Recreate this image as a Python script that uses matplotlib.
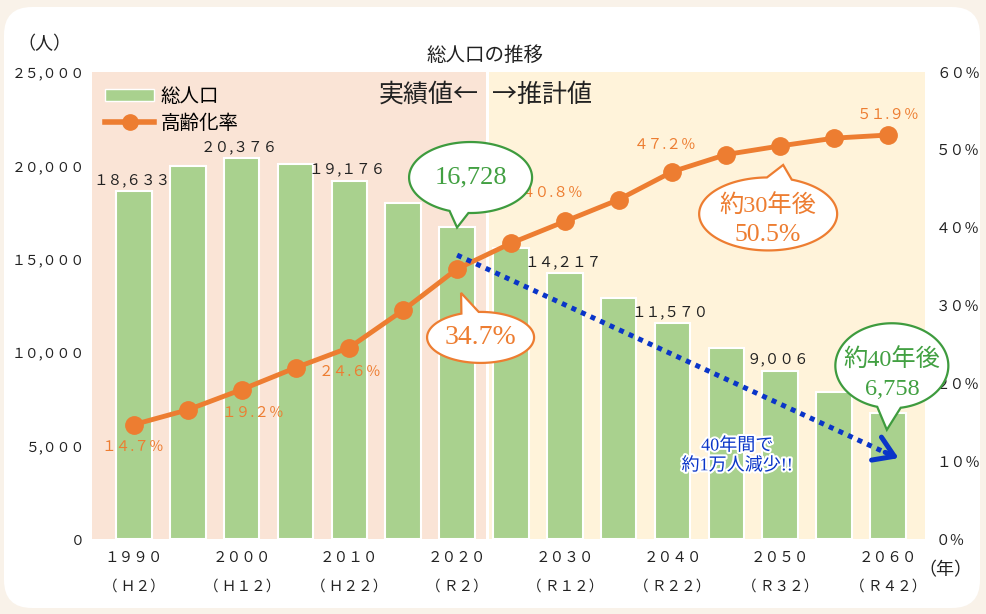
import numpy as np
import matplotlib
matplotlib.use('Agg')
import matplotlib.pyplot as plt
from matplotlib.patches import Patch, Polygon, FancyBboxPatch
from matplotlib.lines import Line2D
from matplotlib.transforms import IdentityTransform
import matplotlib.patheffects as pe

plt.rcParams['font.family'] = ['Noto Sans CJK JP', 'DejaVu Sans']
SERIF = ['Liberation Serif', 'Noto Sans CJK JP']

# データ
years = [1990, 1995, 2000, 2005, 2010, 2015, 2020, 2025, 2030, 2035, 2040, 2045, 2050, 2055, 2060]
eras = ['H2', 'H7', 'H12', 'H17', 'H22', 'H27', 'R2', 'R7', 'R12', 'R17', 'R22', 'R27', 'R32', 'R37', 'R42']
population = [18633, 19990, 20376, 20060, 19176, 18010, 16728, 15560, 14217, 12880, 11570, 10210, 9006, 7850, 6758]
aging_rate = [14.7, 16.6, 19.2, 22.0, 24.6, 29.4, 34.7, 38.0, 40.8, 43.6, 47.2, 49.4, 50.5, 51.5, 51.9]
pop_label_idx = [0, 2, 4, 8, 10, 12]
rate_label_idx = [0, 2, 4, 8, 10, 14]
pop_ticks = [0, 5000, 10000, 15000, 20000, 25000]
rate_ticks = [0, 10, 20, 30, 40, 50, 60]

GREEN = '#A9D18E'
ORANGE = '#ED7D31'
BLUE = '#0A35C8'
GTXT = '#42A042'

# 全角に変換
zen = str.maketrans('0123456789%HR', '０１２３４５６７８９％ＨＲ')


def fw(s):
    return s.translate(zen)


fig = plt.figure(figsize=(9.86, 6.14), dpi=100)
fig.patch.set_facecolor('#F9F2E9')
panel = FancyBboxPatch((4, 6), 976, 601, boxstyle='round,pad=0,rounding_size=28',
                       fc='white', ec='none', transform=IdentityTransform(), zorder=-1)
fig.add_artist(panel)

ax = fig.add_axes([92 / 986, 1 - 539 / 614, (925 - 92) / 986, (539 - 72) / 614])
ax.patch.set_visible(False)
x = np.arange(len(years))
x0, x1 = -0.78, 14.69
ax.set_xlim(x0, x1)
ax.set_ylim(0, 25000)
ax.axvspan(x0, 6.53, color='#FAE4D6', lw=0, zorder=0)
ax.axvspan(6.59, x1, color='#FFF3DA', lw=0, zorder=0)
ax.bar(x, population, width=0.66, color=GREEN, edgecolor='white', lw=1.5, zorder=2)
for s in ax.spines.values():
    s.set_visible(False)
ax.set_xticks([])
ax.set_yticks(pop_ticks, [fw(f'{v:,}') for v in pop_ticks])
ax.tick_params(axis='y', length=0, pad=5, labelsize=10, labelcolor='#222222')

ax2 = ax.twinx()
ax2.set_xlim(x0, x1)
ax2.set_ylim(0, 60)
ax2.plot(x, aging_rate, color=ORANGE, lw=3.5, marker='o', ms=12.5, zorder=3)
for s in ax2.spines.values():
    s.set_visible(False)
ax2.set_yticks(rate_ticks, [fw(f'{v}%') for v in rate_ticks])
ax2.tick_params(axis='y', length=0, pad=8, labelsize=10.5, labelcolor='#222222')

# 年ラベル
for i in range(0, len(years), 2):
    ax.annotate(fw(str(years[i])), (x[i], 0), xytext=(0, -19), textcoords='offset pixels',
                ha='center', va='center', fontsize=10.5, color='#222222', annotation_clip=False)
    ax.annotate('（ ' + fw(eras[i]) + '）', (x[i], 0), xytext=(0, -48), textcoords='offset pixels',
                ha='center', va='center', fontsize=10.5, color='#222222', annotation_clip=False)

# 人口ラベル
for i in pop_label_idx:
    ax.annotate(fw(f'{population[i]:,}'), (x[i], population[i]), xytext=(-2, 4),
                textcoords='offset pixels', ha='center', va='bottom', fontsize=10.5, color='#222222')

# 高齢化率ラベル
rate_off = [(-1, -22), (11, -23), (1, -24), (-13, 29), (-7, 27), (0, 20)]
for i, off in zip(rate_label_idx, rate_off):
    ax2.annotate(fw(f'{aging_rate[i]}%'), (x[i], aging_rate[i]), xytext=off,
                 textcoords='offset pixels', ha='center', va='center', fontsize=10.5, color=ORANGE)

# 減少の矢印
ax2.plot([6.0, 14.05], [15200, 4500], transform=ax.transData, ls=(0, (1, 1.1)), lw=3.6,
         color=BLUE, zorder=6)
ax2.annotate('', xy=(14.2, 4330), xycoords=ax.transData, xytext=(13.95, 4640), textcoords=ax.transData,
             arrowprops=dict(arrowstyle='->,head_length=0.7,head_width=0.45', lw=3.6, color=BLUE,
                             mutation_scale=20, shrinkA=0, shrinkB=0), zorder=6)
ax2.text(11.2, 4450, '40年間で\n約1万人減少!!', transform=ax.transData, ha='center', va='center',
         fontsize=13, color=BLUE, linespacing=1.2, zorder=7, family=SERIF,
         path_effects=[pe.withStroke(linewidth=3, foreground='white')])

ax2.legend(handles=[Patch(fc=GREEN, ec='white'),
                    Line2D([], [], color=ORANGE, lw=4, marker='o', ms=11)],
           labels=['総人口', '高齢化率'], loc='upper left', bbox_to_anchor=(0.002, 0.995),
           frameon=False, fontsize=14, handlelength=2.5, handleheight=0.55,
           handletextpad=0.35, labelspacing=0.3, borderaxespad=0.2)

fig.text(485 / 986, 1 - 55 / 614, '総人口の推移', ha='center', va='center', fontsize=14, color='#222222')
fig.text(44 / 986, 1 - 44 / 614, '（人）', ha='center', va='center', fontsize=13, color='#222222')
fig.text(945 / 986, 1 - 570 / 614, '（年）', ha='center', va='center', fontsize=13, color='#222222')
fig.text(479 / 986, 1 - 95 / 614, '実績値←', ha='right', va='center', fontsize=18, color='#222222')
fig.text(492 / 986, 1 - 95 / 614, '→推計値', ha='left', va='center', fontsize=18, color='#222222')

# 吹き出し（ピクセル座標のオーバーレイ）
ov = fig.add_axes([0, 0, 1, 1], zorder=10)
ov.set_xlim(0, 986)
ov.set_ylim(0, 614)
ov.axis('off')


def bubble(anchor, center_off, w, h, tip_off, a1, a2, color):
    ax_, ay_ = anchor
    cx, cy = ax_ + center_off[0], ay_ + center_off[1]
    t = np.radians(np.linspace(a2, a1 + 360, 150))
    pts = np.column_stack([cx + w / 2 * np.cos(t), cy + h / 2 * np.sin(t)])
    pts = np.vstack([pts, [ax_ + tip_off[0], ay_ + tip_off[1]]])
    ov.add_patch(Polygon(pts, closed=True, fc='white', ec=color, lw=1.6))
    return cx, cy


c = bubble(ax.transData.transform((6, population[6])), (13.5, 49), 123, 71, (0, -1), 250, 268, '#3E9B3E')
ov.text(c[0], c[1], f'{population[6]:,}', ha='center', va='center', fontsize=19, color=GTXT, family=SERIF)

c = bubble(ax2.transData.transform((6, aging_rate[6])), (23.5, -68.5), 107, 51, (4, -24), 92, 111, ORANGE)
ov.text(c[0], c[1], f'{aging_rate[6]}%', ha='center', va='center', fontsize=20, color=ORANGE, family=SERIF)

c = bubble(ax2.transData.transform((12, aging_rate[12])), (-12, -68), 138, 73, (3, -19), 70, 91, ORANGE)
ov.text(c[0], c[1] + 9, '約30年後', ha='center', va='center', fontsize=17.5, color=ORANGE, family=SERIF)
ov.text(c[0], c[1] - 21, f'{aging_rate[12]}%', ha='center', va='center', fontsize=18.5, color=ORANGE, family=SERIF)

c = bubble(ax.transData.transform((14, population[14])), (4, 47), 113, 85, (-1, -17), 255, 279, '#3E9B3E')
ov.text(c[0], c[1] + 6, '約40年後', ha='center', va='center', fontsize=17.5, color=GTXT, family=SERIF)
ov.text(c[0], c[1] - 24, f'{population[14]:,}', ha='center', va='center', fontsize=17.5, color=GTXT, family=SERIF)

fig.savefig('out.png', dpi=100, facecolor=fig.get_facecolor())
